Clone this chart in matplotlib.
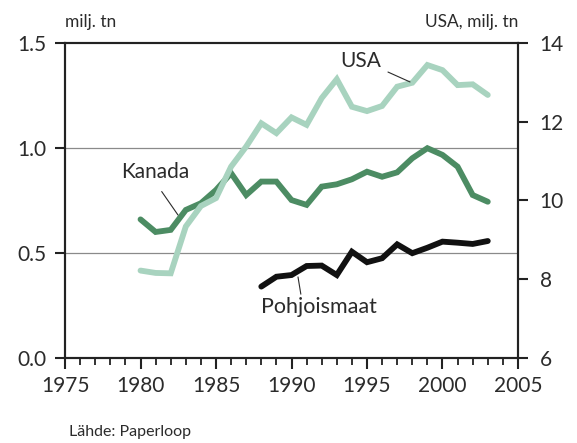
import matplotlib
matplotlib.use("Agg")
from matplotlib import pyplot as plt
from matplotlib.ticker import MultipleLocator

# font: close to the Gill Sans look of the original
plt.rcParams['font.family'] = ['Lato', 'DejaVu Sans']

# data
years = list(range(1980, 2004))
usa = [8.22, 8.16, 8.15, 9.34, 9.86, 10.06, 10.86, 11.37, 11.96, 11.71, 12.11, 11.92,
       12.6, 13.08, 12.38, 12.27, 12.4, 12.89, 12.99, 13.44, 13.31, 12.93, 12.95, 12.68]
kanada = [0.66, 0.60, 0.61, 0.705, 0.737, 0.80, 0.88, 0.776, 0.84, 0.84, 0.752, 0.729,
          0.816, 0.827, 0.851, 0.887, 0.863, 0.884, 0.951, 0.999, 0.967, 0.911, 0.776, 0.744]
pohj_years = list(range(1988, 2004))
pohjoismaat = [0.34, 0.387, 0.395, 0.438, 0.44, 0.395, 0.506, 0.456, 0.475, 0.541,
               0.499, 0.525, 0.554, 0.549, 0.543, 0.557]

left_ticks = [0.0, 0.5, 1.0, 1.5]
right_ticks = [6, 8, 10, 12, 14]
x_ticks = [1975, 1980, 1985, 1990, 1995, 2000, 2005]

c_usa = "#a8d3bf"
c_kanada = "#4c8c63"
c_pohj = "#111111"
c_axis = "#222222"
c_text = "#2b2b2b"

fig = plt.figure(figsize=(5.77, 4.43), dpi=100)
ax = fig.add_axes([0.1127, 0.1919, 0.785, 0.7111])
ax2 = ax.twinx()

# left axis: Kanada and Pohjoismaat
ax.plot(years, kanada, color=c_kanada, lw=4.2, solid_joinstyle="miter", solid_capstyle="round")
ax.plot(pohj_years, pohjoismaat, color=c_pohj, lw=4.2, solid_joinstyle="miter", solid_capstyle="round")
# right axis: USA
ax2.plot(years, usa, color=c_usa, lw=4.2, solid_joinstyle="miter", solid_capstyle="round")

ax.set_xlim(1975, 2005)
ax.set_ylim(0, 1.5)
ax2.set_ylim(6, 14)
ax.set_xticks(x_ticks)
ax.xaxis.set_minor_locator(MultipleLocator(1))
ax.set_yticks(left_ticks)
ax.set_yticklabels(["0.0", "0.5", "1.0", "1.5"])
ax2.set_yticks(right_ticks)

# grid lines only at 0.5 and 1.0
for g in [0.5, 1.0]:
    ax.axhline(g, color="#8a8a8a", lw=0.9, zorder=0)

for sp in list(ax.spines.values()) + list(ax2.spines.values()):
    sp.set_color(c_axis)
    sp.set_linewidth(1.5)

ax.tick_params(axis="x", which="major", direction="out", length=8, width=1.5,
               color=c_axis, labelsize=15, labelcolor=c_text, pad=5)
ax.tick_params(axis="x", which="minor", direction="out", length=5, width=1.3, color=c_axis)
ax.tick_params(axis="y", direction="out", length=7.5, width=1.5, color=c_axis,
               labelsize=15, labelcolor=c_text, pad=6)
ax2.tick_params(axis="y", direction="out", length=7.5, width=1.5, color=c_axis,
                labelsize=15, labelcolor=c_text, pad=8)

# series labels with leader lines
ax.annotate("Kanada", xy=(1982.48, 0.681), xytext=(1980.96, 0.886), fontsize=15, color=c_text,
            ha="center", va="center",
            arrowprops=dict(arrowstyle="-", color=c_text, lw=0.8, relpos=(0.5, 0), shrinkA=6, shrinkB=0))
ax2.annotate("USA", xy=(1997.85, 13.01), xytext=(1994.6, 13.54), fontsize=15, color=c_text,
             ha="center", va="center",
             arrowprops=dict(arrowstyle="-", color=c_text, lw=0.8, relpos=(1, 0.1), shrinkA=3, shrinkB=0))
ax.annotate("Pohjoismaat", xy=(1990.43, 0.386), xytext=(1991.8, 0.243), fontsize=15.5, color=c_text,
            ha="center", va="center",
            arrowprops=dict(arrowstyle="-", color=c_text, lw=0.8, relpos=(0.35, 1), shrinkA=0, shrinkB=0))

# axis titles and source
fig.text(0.1127, 0.95, "milj. tn", fontsize=12.5, color=c_text, ha="left", va="center")
fig.text(0.8977, 0.95, "USA, milj. tn", fontsize=12.5, color=c_text, ha="right", va="center")
fig.text(0.119, 0.025, "Lähde: Paperloop", fontsize=11.5, color=c_text, ha="left", va="center")

plt.savefig("out.png", dpi=100)
